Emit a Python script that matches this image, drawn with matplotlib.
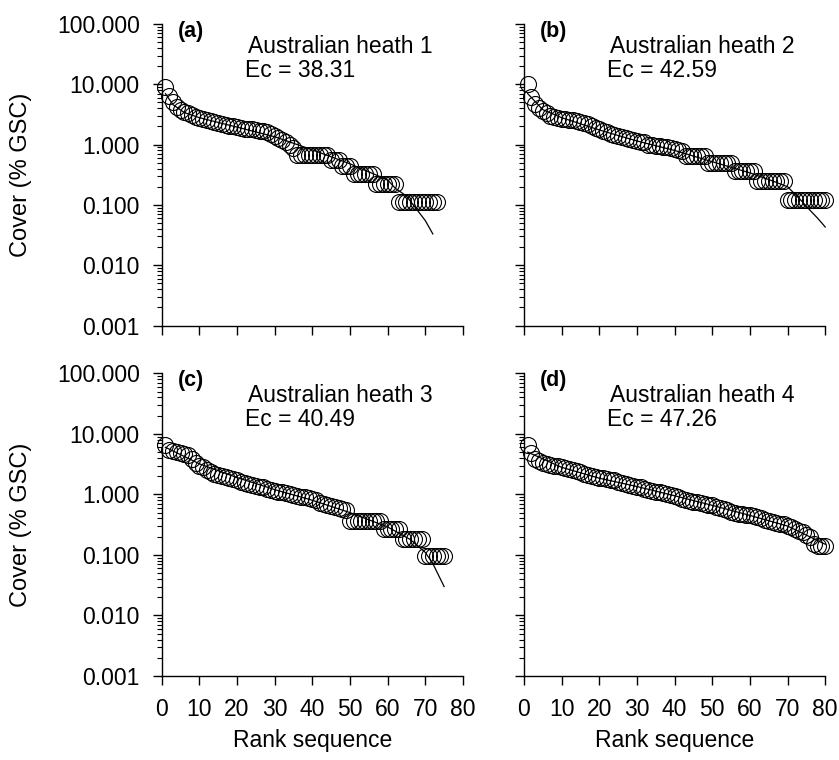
import matplotlib
matplotlib.use("Agg")
import matplotlib.pyplot as plt
from matplotlib.ticker import LogLocator, FuncFormatter, NullFormatter, MultipleLocator

plt.rcParams['font.family'] = ['Liberation Sans', 'DejaVu Sans']

# cover values (% GSC) by rank
cover_a = [9.0, 6.5, 5.0, 4.2, 3.8, 3.5, 3.3, 3.1, 2.9, 2.8,
           2.7, 2.6, 2.5, 2.4, 2.3, 2.2, 2.1, 2.05, 2.0, 1.95,
           1.9, 1.85, 1.85, 1.8, 1.75, 1.7, 1.65, 1.6, 1.5, 1.4,
           1.3, 1.2, 1.1, 1.0, 0.88] + [0.66] * 9 + [0.55] * 3 + [0.44] * 3 \
          + [0.33] * 6 + [0.22] * 6 + [0.11] * 11
cover_b = [10.0, 6.2, 4.8, 4.0, 3.6, 3.3, 3.0, 2.9, 2.8, 2.7,
           2.65, 2.6, 2.55, 2.5, 2.4, 2.3, 2.2, 2.0, 1.9, 1.8,
           1.7, 1.6, 1.5, 1.45, 1.4, 1.35, 1.3, 1.25, 1.2, 1.15,
           1.1, 1.1, 1.0, 1.0, 0.95, 0.95, 0.92, 0.9, 0.87, 0.85,
           0.8, 0.78] + [0.65] * 6 + [0.5] * 7 + [0.37] * 6 + [0.25] * 8 + [0.12] * 11
cover_c = [6.5, 5.5, 5.2, 5.0, 4.8, 4.6, 4.4, 3.8, 3.3, 3.0,
           2.8, 2.5, 2.3, 2.2, 2.1, 2.0, 1.95, 1.9, 1.8, 1.7,
           1.6, 1.55, 1.5, 1.45, 1.4, 1.35, 1.3, 1.25, 1.2, 1.15,
           1.1, 1.08, 1.05, 1.0, 0.98, 0.95, 0.92, 0.9, 0.88, 0.85,
           0.8, 0.72, 0.7, 0.68, 0.65, 0.62, 0.6, 0.58, 0.55] \
          + [0.36] * 9 + [0.27] * 5 + [0.18] * 6 + [0.095] * 6
cover_d = [6.5, 4.8, 3.8, 3.5, 3.3, 3.2, 3.1, 3.0, 2.9, 2.8,
           2.7, 2.6, 2.5, 2.4, 2.3, 2.2, 2.1, 2.0, 1.95, 1.9,
           1.85, 1.8, 1.75, 1.7, 1.6, 1.55, 1.5, 1.45, 1.4, 1.35,
           1.3, 1.25, 1.2, 1.15, 1.1, 1.08, 1.05, 1.0, 0.97, 0.94,
           0.9, 0.85, 0.8, 0.78, 0.76, 0.74, 0.72, 0.7, 0.68, 0.66,
           0.63, 0.6, 0.57, 0.55, 0.52, 0.5, 0.48, 0.47, 0.46, 0.45,
           0.44, 0.42, 0.4, 0.38, 0.36, 0.35, 0.34, 0.33, 0.32, 0.3,
           0.29, 0.27, 0.25, 0.24, 0.21, 0.2, 0.15, 0.14, 0.14, 0.14]

# fitted curves (rank, cover)
fit_a_x = [1, 3, 6, 10, 20, 30, 40, 50, 60, 62, 65, 68, 70, 72]
fit_a_y = [7.0, 4.6, 3.4, 2.8, 1.95, 1.35, 0.82, 0.48, 0.26, 0.19, 0.14, 0.08, 0.055, 0.033]
fit_b_x = [1, 5, 10, 20, 30, 40, 50, 60, 66, 70, 73, 76, 78, 80]
fit_b_y = [7.0, 3.8, 2.8, 1.75, 1.15, 0.8, 0.52, 0.34, 0.25, 0.2, 0.13, 0.081, 0.06, 0.043]
fit_c_x = [1, 10, 20, 30, 40, 50, 60, 66, 70, 72, 75]
fit_c_y = [6.0, 3.2, 1.9, 1.2, 0.8, 0.5, 0.29, 0.18, 0.11, 0.072, 0.03]
fit_d_x = [1, 10, 20, 30, 40, 50, 60, 70, 80]
fit_d_y = [5.0, 2.8, 1.85, 1.35, 0.95, 0.66, 0.45, 0.3, 0.15]

tags = ['(a)', '(b)', '(c)', '(d)']
sites = ['Australian heath 1', 'Australian heath 2', 'Australian heath 3', 'Australian heath 4']
ec_vals = ['38.31', '42.59', '40.49', '47.26']

covers = [cover_a, cover_b, cover_c, cover_d]
fits = [(fit_a_x, fit_a_y), (fit_b_x, fit_b_y), (fit_c_x, fit_c_y), (fit_d_x, fit_d_y)]

fig = plt.figure(figsize=(8.39, 7.6), dpi=100)
boxes = [[0.1927, 0.5717, 0.3591, 0.3967],
         [0.6245, 0.5717, 0.3591, 0.3967],
         [0.1927, 0.1105, 0.3591, 0.3983],
         [0.6245, 0.1105, 0.3591, 0.3983]]

fs = 16.5
for i in range(4):
    ax = fig.add_axes(boxes[i])
    y = covers[i]
    x = list(range(1, len(y) + 1))
    ax.plot(fits[i][0], fits[i][1], color='black', lw=0.9, clip_on=False)
    ax.plot(x, y, 'o', ms=11.5, mfc='none', mec='black', mew=0.8, clip_on=False)
    ax.set_yscale('log')
    ax.set_xlim(0, 80)
    ax.set_ylim(0.001, 100)
    ax.spines['top'].set_visible(False)
    ax.spines['right'].set_visible(False)
    ax.spines['left'].set_linewidth(1.0)
    ax.spines['bottom'].set_linewidth(1.0)
    ax.xaxis.set_major_locator(MultipleLocator(10))
    ax.yaxis.set_major_locator(LogLocator(base=10, numticks=10))
    ax.yaxis.set_minor_locator(LogLocator(base=10, subs=range(2, 10), numticks=10))
    ax.yaxis.set_minor_formatter(NullFormatter())
    ax.yaxis.set_major_formatter(FuncFormatter(lambda v, p: '%.3f' % v))
    ax.tick_params(which='major', direction='out', length=6.7, width=1.0,
                   labelsize=fs, pad=9)
    ax.tick_params(which='minor', direction='out', length=3.5, width=0.8)
    if i in (1, 3):
        ax.tick_params(axis='y', which='both', labelleft=False)
    else:
        ax.set_ylabel('Cover (% GSC)', fontsize=17)
        ax.yaxis.set_label_coords(-0.43, 0.5)
    if i in (0, 1):
        ax.tick_params(axis='x', labelbottom=False)
    else:
        ax.set_xlabel('Rank sequence', fontsize=fs)
        ax.xaxis.set_label_coords(0.5, -0.175)

    ax.text(0.054, 1.01, tags[i], transform=ax.transAxes, fontsize=15.5,
            fontweight='bold', ha='left', va='top')
    ax.text(0.592, 0.927, sites[i], transform=ax.transAxes, fontsize=fs,
            ha='center', va='center')
    ax.text(0.276, 0.846, 'Ec = ' + ec_vals[i], transform=ax.transAxes,
            fontsize=fs, ha='left', va='center')

fig.savefig('out.png', dpi=100)
